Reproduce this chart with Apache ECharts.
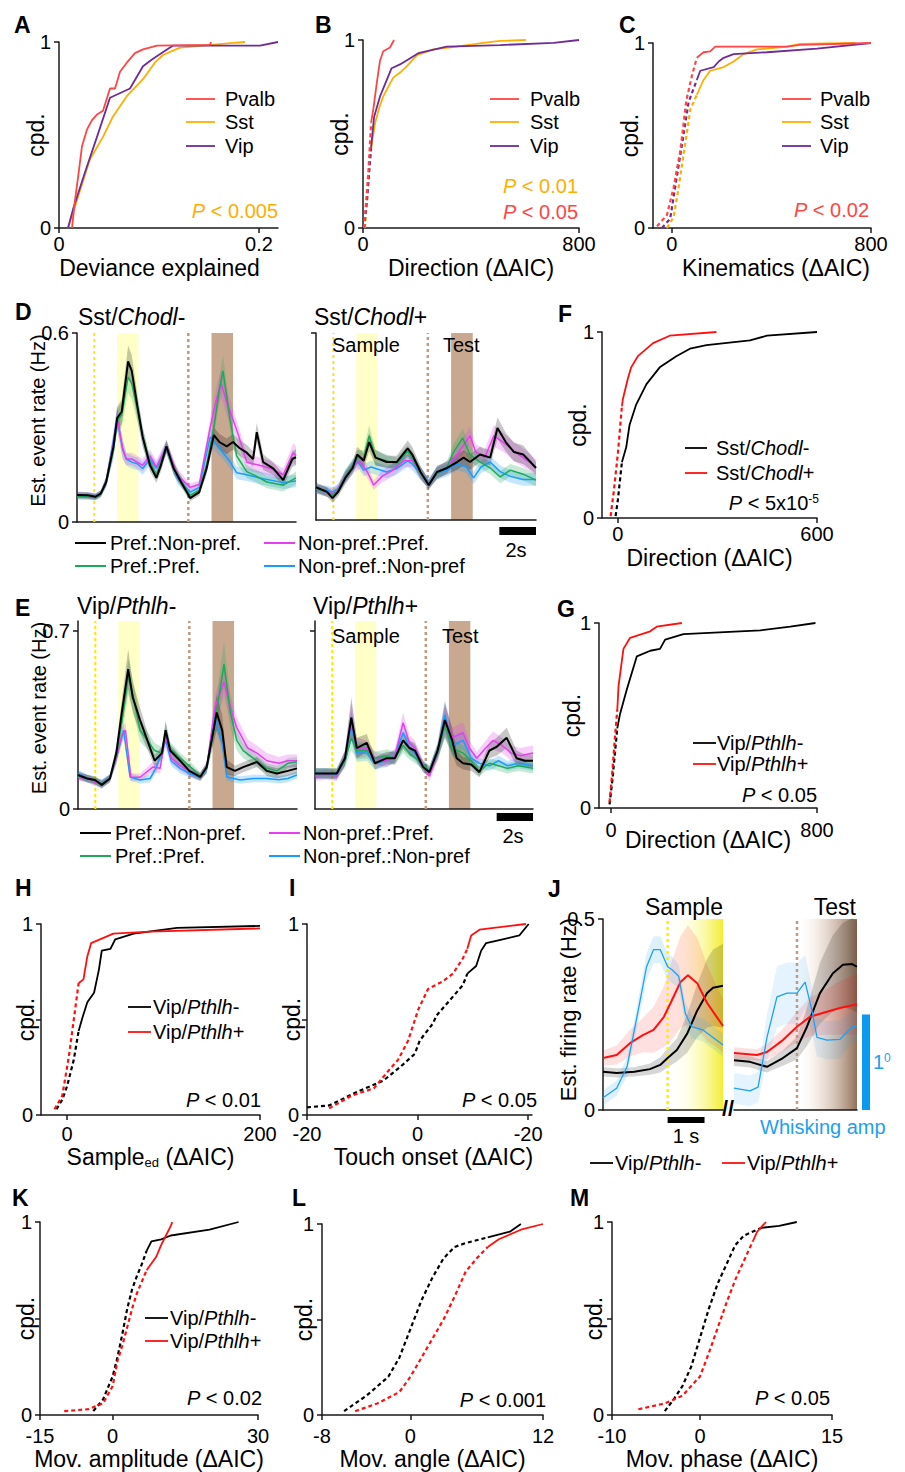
<!DOCTYPE html>
<html><head><meta charset="utf-8">
<script src="https://cdn.jsdelivr.net/npm/echarts@6/dist/echarts.min.js"></script>
<style>html,body{margin:0;padding:0;background:#fff}#c{width:905px;height:1472px}</style>
</head><body><div id="c"></div>
<script>
// ================= DATA =================
// Panel A (x: deviance explained, y: cumulative probability)
const A_pvalb = [[0.013,0],[0.016,0.15],[0.019,0.27],[0.023,0.44],[0.028,0.53],[0.033,0.58],[0.038,0.61],[0.044,0.63],[0.051,0.75],[0.056,0.75],[0.061,0.84],[0.068,0.89],[0.076,0.94],[0.084,0.96],[0.098,0.98],[0.151,0.985],[0.152,1]];
const A_sst = [[0.009,0],[0.018,0.15],[0.031,0.37],[0.044,0.49],[0.054,0.60],[0.068,0.71],[0.084,0.80],[0.096,0.89],[0.104,0.93],[0.121,0.97],[0.134,0.975],[0.174,0.995],[0.186,1]];
const A_vip = [[0.009,0],[0.014,0.1],[0.026,0.30],[0.038,0.49],[0.051,0.70],[0.071,0.75],[0.084,0.87],[0.094,0.91],[0.111,0.97],[0.114,0.98],[0.201,0.98],[0.219,1]];
const A_xticks = [0, 0.2], A_xlabels = ['0', '0.2'];
// Panel B
const B_pvalb = [[4,0],[12,0.15],[20,0.3],[30,0.56],[38,0.63],[51,0.77],[63,0.89],[75,0.94],[100,0.96],[115,1]];
const B_sst = [[7,0],[15,0.15],[22,0.3],[30,0.42],[45,0.56],[60,0.64],[75,0.70],[112,0.80],[140,0.83],[162,0.86],[200,0.92],[261,0.95],[348,0.965],[445,0.985],[507,0.995],[603,1]];
const B_vip = [[4,0],[15,0.15],[22,0.28],[30,0.43],[41,0.59],[63,0.70],[106,0.85],[137,0.87],[205,0.93],[310,0.965],[508,0.973],[706,0.985],[800,1]];
const B_thr = 30, B_xticks = [0, 800], B_xlabels = ['0', '800'];
// Panel C
const C_pvalb = [[-60,0.01],[-20,0.07],[7,0.22],[34,0.42],[58,0.69],[80,0.82],[100,0.92],[127,0.95],[154,0.955],[174,0.98],[315,0.98],[462,0.98],[516,0.99],[800,1]];
const C_sst = [[-20,0],[7,0.06],[27,0.22],[54,0.46],[74,0.64],[100,0.72],[127,0.80],[154,0.85],[208,0.87],[248,0.90],[288,0.94],[342,0.965],[462,0.98],[516,0.995],[737,1]];
const C_vip = [[-40,0],[-7,0.05],[13,0.22],[44,0.48],[67,0.68],[100,0.80],[114,0.85],[168,0.87],[188,0.90],[208,0.92],[248,0.94],[382,0.95],[583,0.97],[800,1]];
const C_thr = 100, C_xticks = [0, 800], C_xlabels = ['0', '800'];
// Panels D/E task events (s)
const DE_sampleCue = 0.95, DE_sampleWin = [2.2, 3.37], DE_testCue = 6.1, DE_testWin = [7.37, 8.55];
const DE_scaleBar = [10, 12];
// Panel D  [time s, rate Hz, sem]
const DL_black = [[0,.086,.01],[0.6,.085,.01],[1.0,.08,.01],[1.3,.09,.01],[1.6,.127,.015],[2.0,.24,.03],[2.2,.33,.035],[2.45,.35,.04],[2.8,.51,.05],[3.0,.48,.05],[3.3,.37,.04],[3.6,.27,.03],[4.0,.18,.02],[4.35,.14,.015],[4.6,.18,.02],[4.9,.24,.02],[5.3,.17,.02],[5.7,.127,.015],[6.2,.076,.01],[6.7,.095,.012],[7.1,.17,.02],[7.5,.276,.025],[7.8,.254,.025],[8.2,.24,.025],[8.55,.254,.025],[8.9,.235,.025],[9.3,.22,.025],[9.65,.20,.025],[9.85,.285,.03],[10.2,.19,.025],[10.75,.17,.02],[11.3,.133,.02],[11.8,.20,.025],[12,.206,.025]];
const DL_green = [[0,.08,.01],[0.6,.08,.01],[1.0,.078,.01],[1.3,.088,.01],[1.6,.125,.015],[2.0,.23,.03],[2.2,.32,.035],[2.45,.34,.04],[2.8,.46,.05],[3.0,.44,.05],[3.3,.36,.04],[3.6,.27,.03],[4.0,.19,.02],[4.35,.15,.015],[4.6,.19,.02],[4.9,.24,.02],[5.3,.17,.02],[5.7,.13,.015],[6.2,.085,.01],[6.7,.10,.012],[7.1,.18,.02],[7.5,.30,.03],[7.8,.42,.04],[8.0,.48,.05],[8.2,.40,.04],[8.4,.32,.035],[8.75,.21,.025],[9.3,.16,.02],[9.85,.145,.02],[10.4,.127,.02],[11.3,.117,.02],[12,.14,.02]];
const DL_magenta = [[0,.085,.01],[0.6,.083,.01],[1.0,.08,.01],[1.3,.09,.01],[1.6,.13,.015],[2.0,.25,.03],[2.2,.33,.035],[2.5,.235,.03],[2.7,.20,.02],[3.0,.20,.02],[3.3,.19,.02],[3.6,.18,.02],[4.0,.21,.02],[4.35,.175,.02],[4.9,.24,.02],[5.5,.15,.02],[6.2,.11,.012],[6.7,.12,.012],[7.3,.30,.03],[7.6,.38,.04],[7.9,.44,.045],[8.2,.38,.04],[8.4,.35,.035],[8.85,.275,.03],[9.3,.19,.025],[10.0,.18,.025],[10.6,.17,.025],[11.3,.15,.02],[11.85,.22,.03],[12,.21,.03]];
const DL_blue = [[0,.085,.01],[0.6,.084,.01],[1.0,.082,.01],[1.3,.09,.01],[1.6,.13,.015],[2.0,.26,.03],[2.2,.33,.035],[2.5,.23,.03],[2.7,.20,.02],[3.0,.19,.02],[3.3,.185,.02],[3.6,.17,.02],[4.0,.20,.02],[4.35,.17,.02],[4.9,.235,.02],[5.5,.14,.02],[6.2,.095,.012],[6.7,.11,.012],[7.3,.27,.03],[7.65,.245,.025],[8.0,.22,.02],[8.4,.19,.02],[8.75,.156,.02],[9.3,.15,.02],[10.0,.14,.02],[11.3,.125,.02],[12,.13,.02]];
const DR_black = [[0,.105,.015],[0.6,.09,.015],[0.9,.07,.015],[1.2,.09,.015],[1.6,.135,.02],[2.0,.167,.02],[2.25,.21,.025],[2.6,.19,.025],[2.9,.25,.03],[3.25,.20,.025],[3.85,.186,.02],[4.4,.186,.02],[5.0,.23,.025],[5.25,.21,.025],[5.7,.154,.02],[6.15,.112,.015],[6.6,.154,.02],[7.15,.167,.02],[7.7,.186,.025],[8.05,.20,.025],[8.4,.186,.025],[8.95,.21,.025],[9.5,.20,.025],[9.9,.295,.035],[10.35,.25,.03],[10.8,.218,.03],[11.3,.21,.03],[11.7,.186,.025],[12,.167,.02]];
const DR_green = [[0,.10,.015],[0.6,.09,.015],[0.9,.08,.015],[1.2,.095,.015],[1.6,.14,.02],[2.0,.175,.02],[2.25,.20,.025],[2.6,.20,.025],[2.9,.27,.035],[3.25,.20,.025],[3.85,.19,.02],[4.4,.18,.02],[5.0,.22,.02],[5.25,.20,.02],[5.7,.15,.02],[6.15,.115,.015],[6.6,.15,.02],[7.15,.17,.02],[7.5,.218,.025],[8.0,.263,.03],[8.4,.21,.025],[8.95,.186,.02],[9.5,.167,.02],[10.05,.138,.02],[10.6,.16,.02],[11.3,.147,.02],[12,.128,.02]];
const DR_magenta = [[0,.10,.015],[0.6,.09,.015],[0.9,.085,.015],[1.2,.10,.015],[1.6,.14,.02],[2.0,.17,.02],[2.4,.19,.025],[2.8,.154,.02],[3.15,.112,.015],[3.6,.14,.02],[4.2,.16,.02],[4.8,.19,.02],[5.3,.19,.02],[5.7,.15,.02],[6.15,.115,.015],[6.6,.15,.02],[7.15,.17,.02],[7.7,.21,.025],[8.4,.27,.03],[8.7,.22,.025],[9.2,.20,.025],[9.7,.27,.035],[10.2,.25,.03],[10.8,.22,.03],[11.3,.20,.03],[12,.17,.025]];
const DR_blue = [[0,.10,.015],[0.6,.095,.015],[0.9,.09,.015],[1.2,.10,.015],[1.6,.14,.02],[2.0,.175,.02],[2.25,.19,.02],[2.6,.16,.02],[3.0,.17,.02],[3.85,.154,.02],[4.4,.165,.02],[5.0,.19,.02],[5.25,.18,.02],[5.7,.15,.02],[6.15,.12,.015],[6.6,.15,.02],[7.15,.16,.02],[7.7,.18,.02],[8.2,.17,.02],[8.6,.135,.02],[9.0,.17,.02],[9.5,.186,.02],[10.05,.155,.02],[10.6,.14,.02],[11.3,.13,.02],[12,.13,.02]];
// Panel E
const EL_black = [[0,.134,.015],[0.5,.12,.015],[0.93,.114,.015],[1.3,.095,.015],[1.75,.12,.015],[2.1,.22,.03],[2.4,.38,.05],[2.75,.55,.08],[3.0,.44,.06],[3.4,.35,.05],[3.8,.27,.035],[4.2,.19,.025],[4.6,.22,.025],[4.8,.31,.035],[5.05,.23,.025],[5.6,.19,.02],[6.1,.15,.02],[6.7,.126,.015],[7.05,.165,.02],[7.4,.30,.05],[7.6,.38,.07],[7.9,.31,.06],[8.15,.165,.03],[8.6,.15,.02],[9.05,.165,.02],[9.8,.185,.02],[10.35,.15,.02],[10.9,.14,.02],[11.5,.15,.02],[12,.16,.02]];
const EL_green = [[0,.13,.015],[0.5,.12,.015],[0.93,.11,.015],[1.3,.10,.015],[1.75,.12,.015],[2.1,.21,.03],[2.4,.34,.05],[2.75,.52,.07],[3.0,.45,.06],[3.4,.31,.045],[3.8,.27,.035],[4.2,.23,.03],[4.6,.22,.025],[4.8,.31,.035],[5.05,.24,.025],[5.6,.20,.02],[6.1,.17,.02],[6.7,.13,.015],[7.05,.16,.02],[7.5,.34,.06],[8.0,.57,.09],[8.35,.38,.06],[8.7,.27,.04],[9.05,.23,.03],[9.6,.20,.025],[10.35,.16,.02],[10.9,.15,.02],[11.5,.18,.02],[12,.185,.02]];
const EL_magenta = [[0,.125,.015],[0.5,.12,.015],[0.93,.105,.015],[1.3,.10,.015],[1.75,.12,.015],[2.1,.2,.025],[2.4,.29,.03],[2.6,.31,.03],[2.9,.126,.015],[3.4,.125,.015],[4.1,.165,.02],[4.5,.16,.02],[4.8,.29,.03],[5.1,.2,.02],[5.6,.17,.02],[6.1,.15,.02],[6.7,.13,.015],[7.05,.16,.02],[7.5,.40,.05],[8.0,.50,.06],[8.35,.40,.05],[8.7,.32,.04],[9.3,.24,.035],[9.8,.22,.03],[10.35,.19,.03],[11.0,.18,.025],[11.5,.19,.025],[12,.19,.025]];
const EL_blue = [[0,.14,.015],[0.5,.12,.015],[0.93,.11,.015],[1.3,.10,.015],[1.75,.125,.015],[2.1,.2,.02],[2.5,.31,.03],[2.85,.126,.015],[3.4,.114,.015],[3.95,.12,.015],[4.3,.165,.02],[4.8,.27,.03],[5.1,.19,.02],[5.6,.16,.02],[6.1,.14,.015],[6.7,.125,.015],[7.05,.16,.02],[7.5,.36,.04],[7.9,.26,.03],[8.15,.126,.015],[8.9,.114,.015],[9.6,.12,.015],[10.35,.12,.015],[11.0,.115,.015],[11.5,.12,.015],[12,.134,.015]];
const ER_black = [[0,.14,.02],[0.6,.14,.02],[1.2,.14,.02],[1.65,.2,.03],[2.0,.36,.08],[2.3,.24,.04],[2.85,.26,.035],[3.3,.18,.025],[3.95,.2,.025],[4.4,.2,.025],[4.85,.27,.035],[5.2,.24,.03],[5.5,.23,.03],[5.95,.165,.02],[6.3,.145,.02],[6.75,.23,.03],[7.15,.35,.07],[7.55,.27,.05],[7.8,.2,.03],[8.15,.18,.025],[8.6,.175,.025],[9.05,.145,.02],[9.6,.23,.03],[10.0,.245,.035],[10.55,.28,.04],[11.1,.2,.03],[11.55,.19,.025],[12,.19,.025]];
const ER_green = [[0,.14,.02],[0.6,.14,.02],[1.2,.14,.02],[1.65,.19,.03],[2.0,.28,.05],[2.3,.23,.035],[2.85,.23,.03],[3.3,.20,.025],[3.95,.21,.025],[4.4,.20,.025],[4.85,.25,.03],[5.2,.22,.025],[5.7,.19,.02],[6.3,.15,.02],[6.75,.22,.03],[7.15,.33,.05],[7.55,.24,.035],[8.15,.22,.03],[8.6,.19,.025],[9.05,.15,.02],[9.6,.18,.02],[10.1,.17,.02],[10.6,.16,.02],[11.2,.17,.02],[12,.16,.02]];
const ER_magenta = [[0,.13,.02],[0.6,.135,.02],[1.2,.13,.02],[1.65,.2,.03],[2.0,.35,.07],[2.3,.24,.04],[2.85,.24,.03],[3.3,.2,.025],[3.95,.19,.025],[4.4,.21,.025],[4.85,.34,.04],[5.2,.26,.03],[5.5,.24,.03],[5.95,.17,.02],[6.3,.13,.02],[6.75,.22,.03],[7.15,.35,.06],[7.55,.28,.04],[8.15,.30,.04],[8.5,.24,.03],[8.9,.20,.025],[9.4,.24,.03],[9.8,.27,.035],[10.3,.25,.03],[10.8,.22,.03],[11.3,.21,.03],[12,.22,.03]];
const ER_blue = [[0,.14,.02],[0.6,.14,.02],[1.2,.135,.02],[1.65,.2,.03],[2.0,.33,.06],[2.3,.22,.035],[2.85,.22,.03],[3.3,.18,.025],[3.95,.19,.025],[4.4,.21,.025],[4.85,.30,.035],[5.2,.24,.03],[5.5,.22,.03],[5.95,.17,.02],[6.3,.15,.02],[6.75,.23,.03],[7.15,.37,.06],[7.55,.25,.04],[8.15,.27,.035],[8.6,.2,.025],[9.05,.18,.02],[9.6,.17,.02],[10.1,.19,.02],[10.6,.17,.02],[11.2,.18,.02],[12,.17,.02]];
// Panel F
const F_neg = [[-7,0.01],[0,0.1],[6,0.2],[12,0.3],[25,0.38],[35,0.50],[55,0.61],[86,0.72],[126,0.81],[176,0.87],[217,0.91],[267,0.93],[398,0.955],[449,0.98],[600,1]];
const F_pos = [[-22,0.01],[-12,0.15],[0,0.35],[12,0.6],[15,0.64],[30,0.75],[40,0.81],[60,0.87],[106,0.94],[156,0.98],[297,1]];
const F_thr = 12, F_xticks = [0, 600], F_xlabels = ['0', '600'];
// Panel G
const G_neg = [[-6,0.02],[5,0.15],[15,0.3],[24,0.43],[35,0.51],[61,0.64],[100,0.82],[152,0.85],[190,0.86],[210,0.91],[281,0.94],[580,0.96],[696,0.98],[794,1]];
const G_pos = [[-6,0.03],[5,0.2],[15,0.38],[24,0.53],[29,0.66],[48,0.86],[74,0.92],[152,0.955],[177,0.98],[275,1]];
const G_thr = 24, G_xticks = [0, 800], G_xlabels = ['0', '800'];
// Panel H
const H_neg = [[-11,0.03],[-5,0.08],[0,0.15],[7,0.29],[12,0.44],[16,0.51],[21,0.59],[28,0.64],[33,0.76],[36,0.86],[45,0.87],[50,0.92],[69,0.95],[114,0.98],[200,0.99]];
const H_pos = [[-13,0.03],[-5,0.10],[2,0.31],[7,0.5],[12,0.69],[17,0.71],[21,0.83],[25,0.90],[48,0.95],[86,0.96],[200,0.977]];
const H_thr = 12, H_xticks = [0, 200], H_xlabels = ['0', '200'];
// Panel I
const I_neg = [[-20,0.04],[-16,0.05],[-11,0.12],[-6.2,0.18],[-3.2,0.25],[-0.5,0.32],[0.4,0.39],[2.8,0.48],[3.4,0.52],[5.8,0.60],[8.2,0.68],[9,0.74],[10.6,0.78],[11.5,0.86],[12.4,0.90],[15.4,0.92],[18.4,0.94],[20.1,1]];
const I_pos = [[-16,0.035],[-12,0.10],[-7.9,0.14],[-5.3,0.23],[-3.5,0.29],[-1.7,0.39],[0.1,0.55],[1.9,0.66],[4.6,0.70],[6.4,0.74],[8.2,0.82],[9,0.87],[9.7,0.94],[11.2,0.97],[19.6,1]];
const I_thr = 9, I_xticks = [-20, 0, 20], I_xlabels = ['-20', '0', '-20'];
// Panel J [time s, rate Hz, sem]
const J_sampleGrad = [0, 1.5], J_testGrad = [0, 1.62], J_scaleBar = [0, 1], J_whisk1deg = 0.25;
const JL_black = [[-1.75,.10,.012],[-1.38,.097,.012],[-0.9,.10,.012],[-0.48,.107,.015],[-0.2,.118,.02],[0,.136,.025],[0.25,.157,.03],[0.53,.20,.05],[0.8,.26,.07],[1.07,.306,.09],[1.23,.32,.1],[1.5,.325,.11]];
const JL_red = [[-1.75,.136,.02],[-1.38,.144,.025],[-1.02,.175,.035],[-0.67,.196,.045],[-0.38,.21,.06],[-0.1,.244,.08],[0.08,.28,.1],[0.35,.335,.12],[0.55,.353,.13],[0.8,.332,.12],[1.07,.28,.1],[1.32,.245,.08],[1.5,.22,.07]];
const JL_blue = [[-1.75,.032,.02],[-1.38,.057,.02],[-1.1,.113,.025],[-0.83,.244,.03],[-0.57,.375,.035],[-0.38,.42,.035],[-0.2,.42,.035],[0,.375,.035],[0.12,.367,.035],[0.3,.35,.03],[0.48,.253,.03],[0.65,.218,.03],[0.95,.21,.03],[1.23,.19,.03],[1.5,.17,.03]];
const JR_black = [[-1.7,.13,.015],[-1.27,.126,.015],[-0.81,.113,.015],[-0.38,.136,.02],[0,.162,.03],[0.27,.218,.05],[0.62,.306,.08],[0.97,.358,.1],[1.24,.38,.11],[1.49,.382,.12],[1.62,.375,.12]];
const JR_red = [[-1.7,.149,.015],[-1.08,.144,.015],[-0.81,.152,.02],[-0.38,.183,.03],[0,.218,.04],[0.35,.244,.05],[0.81,.257,.06],[1.16,.267,.07],[1.62,.277,.08]];
const JR_blue = [[-1.7,.057,.04],[-1.27,.05,.04],[-1.05,.06,.04],[-0.81,.19,.06],[-0.54,.296,.08],[-0.27,.306,.08],[0,.306,.08],[0.22,.335,.07],[0.4,.262,.06],[0.54,.19,.05],[0.81,.183,.05],[1.16,.185,.05],[1.49,.218,.04],[1.62,.22,.04]];
// Panel K
const K_neg = [[-4,0.02],[-2,0.08],[0,0.2],[1,0.3],[2,0.42],[3,0.55],[4,0.65],[5,0.72],[6,0.78],[7,0.85],[8,0.9],[10,0.91],[12,0.93],[20,0.96],[26,1.0]];
const K_pos = [[-10,0.02],[-5,0.03],[-2,0.06],[0,0.15],[1,0.28],[2,0.36],[4,0.55],[5,0.63],[7,0.75],[9,0.82],[10,0.88],[11,0.93],[12,0.98],[12.3,1.0]];
const K_thr = 7, K_xticks = [-15, 0, 30], K_xlabels = ['-15', '0', '30'];
// Panel L
const L_neg = [[-6,0.02],[-4,0.1],[-2,0.2],[-1,0.3],[0,0.45],[1,0.6],[2,0.72],[3,0.82],[4,0.88],[5,0.9],[7,0.93],[9,0.96],[10,1]];
const L_pos = [[-5,0.02],[-3,0.06],[-1,0.12],[0,0.2],[1,0.3],[2,0.4],[3,0.5],[4,0.62],[5,0.75],[6,0.82],[7,0.88],[8,0.92],[10,0.97],[12,1.0]];
const L_thr = 7, L_xticks = [-8, 0, 12], L_xlabels = ['-8', '0', '12'];
// Panel M
const M_neg = [[-4,0.02],[-3,0.08],[-2,0.15],[-1,0.25],[0,0.4],[1,0.55],[2,0.68],[3,0.78],[4,0.88],[5,0.93],[7,0.97],[9,0.98],[11,1]];
const M_pos = [[-7,0.03],[-4,0.06],[-2,0.1],[0,0.2],[1,0.32],[2,0.45],[3,0.58],[4,0.7],[5,0.8],[6,0.9],[6.5,0.95],[7.5,1]];
const M_thr = 6, M_xticks = [-10, 0, 15], M_xlabels = ['-10', '0', '15'];
const CDF_yVals = [0, 1], CDF_yLabels = ['0', '1'];

// ================= BUILD =================
const FONT = "'Liberation Sans', Arial, Helvetica, sans-serif";
const AX = '#1a1a1a';
const grids = [], xAxes = [], yAxes = [], series = [], graphics = [];
const COL = {pv:'#FF4545', sst:'#FFAE00', vip:'#6E2C96', blk:'#000000', red:'#FF1010',
  grn:'#1DAA58', mag:'#E53FF0', blu:'#1A9BFF', jblu:'#1EA0EE'};

function near(list, v) { return list.findIndex(t => Math.abs(t - v) < 1e-9); }
function xAxisCfg(min, max, o) {
  const ticks = o.ticks || [], labs = o.labels || [];
  return {type:'value', min, max, position:'bottom', nameMoveOverlap:false,
    axisLine:{show:true, onZero:false, lineStyle:{color:AX, width:1.5}},
    axisTick:{show:ticks.length > 0, length:5, customValues:ticks, lineStyle:{color:AX, width:1.5}},
    axisLabel:{show:ticks.length > 0, customValues:ticks, margin:o.margin ?? 6, fontSize:20, color:'#000', fontFamily:FONT,
      formatter: v => { const i = near(ticks, v); return i < 0 ? '' : labs[i]; }},
    splitLine:{show:false},
    name:o.name || '', nameLocation:'middle', nameGap:o.nameGap ?? 28,
    nameTextStyle:{fontSize:23, color:'#000', fontFamily:FONT, padding:o.namePad || 0, rich:o.rich}};
}
function yAxisCfg(min, max, o) {
  const ticks = o.ticks || [], lv = o.labelVals || [], lt = o.labelTxt || [];
  return {type:'value', min, max, position:'left', show:o.show !== false, nameMoveOverlap:false,
    axisLine:{show:true, onZero:false, lineStyle:{color:AX, width:1.5}},
    axisTick:{show:ticks.length > 0, length:5, customValues:ticks, lineStyle:{color:AX, width:1.5}},
    axisLabel:{show:lv.length > 0, customValues:lv, margin:o.margin ?? 8, fontSize:20, color:'#000', fontFamily:FONT,
      formatter: v => { const i = near(lv, v); return i < 0 ? '' : lt[i]; }},
    splitLine:{show:false},
    name:o.name || '', nameLocation:'middle', nameGap:o.nameGap ?? 12, nameRotate:90,
    nameTextStyle:{fontSize:o.nameSize || 23, color:'#000', fontFamily:FONT, padding:o.namePad || 0}};
}
function addGrid(box, xa, ya) {
  const i = grids.length;
  grids.push(Object.assign({containLabel:false}, box));
  xa.gridIndex = i; ya.gridIndex = i; xAxes.push(xa); yAxes.push(ya);
  return i;
}
function line(gi, data, color, width, dashed, z) {
  series.push({type:'line', xAxisIndex:gi, yAxisIndex:gi, data, symbol:'none', showSymbol:false, silent:true,
    animation:false, z:z || 4, lineStyle:{color, width, type:dashed ? [4, 3] : 'solid'}, emphasis:{disabled:true}});
}
function cdf(gi, pts, thr, color) {
  if (thr == null) { line(gi, pts, color, 1.8, false); return; }
  let k = pts.findIndex(p => p[0] >= thr); if (k < 0) k = pts.length - 1;
  line(gi, pts.slice(0, k + 1), color, 2.2, true);
  line(gi, pts.slice(k), color, 1.8, false);
}
function custom(gi, anchor, z, fn) {
  series.push({type:'custom', coordinateSystem:'cartesian2d', xAxisIndex:gi, yAxisIndex:gi, data:[anchor], silent:true,
    animation:false, clip:false, z, renderItem:(p, api) => p.dataIndex === 0 ? fn(api) : null});
}
function band(gi, pts, color, opacity) {
  custom(gi, [pts[0][0], pts[0][1]], 2, api => {
    const up = pts.map(p => api.coord([p[0], p[1] + p[2]]));
    const dn = pts.slice().reverse().map(p => api.coord([p[0], Math.max(0, p[1] - p[2])]));
    return {type:'polygon', shape:{points:up.concat(dn)}, style:{fill:color, opacity}};
  });
}
function trace(gi, pts, color, width, op) {
  band(gi, pts, color, op);
  line(gi, pts.map(p => [p[0], p[1]]), color, width, false, 4);
}
function rectS(gi, x1, x2, y1, y2, fill, z) {
  custom(gi, [x1, y1], z ?? 0, api => {
    const a = api.coord([x1, y2]), b = api.coord([x2, y1]);
    return {type:'rect', shape:{x:a[0], y:a[1], width:b[0] - a[0], height:b[1] - a[1]}, style:{fill}};
  });
}
function vline(gi, x, y1, y2, color, w, z) {
  custom(gi, [x, y1], z ?? 1, api => {
    const a = api.coord([x, y1]), b = api.coord([x, y2]);
    return {type:'line', shape:{x1:a[0], y1:a[1], x2:b[0], y2:b[1]}, style:{stroke:color, lineWidth:w, lineDash:[3, 3]}};
  });
}
function hbar(gi, x1, x2, dy, thick, color) {
  custom(gi, [x1, 0], 5, api => {
    const a = api.coord([x1, 0]), b = api.coord([x2, 0]);
    return {type:'rect', shape:{x:a[0], y:a[1] + dy - thick / 2, width:b[0] - a[0], height:thick}, style:{fill:color}};
  });
}
function txt(x, y, text, o) {
  o = o || {};
  const fs = o.size || 20;
  const base = {fontSize:fs, fontFamily:o.family || FONT, fontWeight:o.weight || 'normal', fill:o.color || '#000'};
  const rich = {
    i:{fontSize:fs, fontFamily:FONT, fontStyle:'italic', fill:o.color || '#000'},
    sup:{fontSize:Math.round(fs * 0.6), fontFamily:FONT, fill:o.color || '#000', verticalAlign:'top', lineHeight:fs},
  };
  graphics.push({type:'text', x, y, silent:true, z:50,
    style:Object.assign(base, {text, align:o.align || 'left', verticalAlign:'middle', rich})});
}
function legLine(x1, x2, y, color, w) {
  graphics.push({type:'line', silent:true, z:50, shape:{x1, y1:y, x2, y2:y}, style:{stroke:color, lineWidth:w || 1.8}});
}
function letter(x, y, t) { txt(x, y, t, {size:23, weight:'bold', family:"'Liberation Sans Narrow', 'Liberation Sans', Arial, sans-serif"}); }
function cdfY(o) { return yAxisCfg(0, 1, Object.assign({ticks:o.mid ? [0, 0.5, 1] : [0, 1], labelVals:CDF_yVals, labelTxt:CDF_yLabels, name:'cpd.'}, o)); }

// ---- A
let g = addGrid({left:59, top:42, width:219, height:186},
  xAxisCfg(0, 0.219, {ticks:A_xticks, labels:A_xlabels, name:'Deviance explained', namePad:[0, 18, 0, 0]}), cdfY({nameGap:12}));
cdf(g, A_sst, null, COL.sst); cdf(g, A_vip, null, COL.vip); cdf(g, A_pvalb, null, COL.pv);
// ---- B
g = addGrid({left:363, top:40, width:216, height:188},
  xAxisCfg(0, 800, {ticks:B_xticks, labels:B_xlabels, name:'Direction (ΔAIC)'}), cdfY({nameGap:12}));
cdf(g, B_sst, B_thr, COL.sst); cdf(g, B_vip, B_thr, COL.vip); cdf(g, B_pvalb, B_thr, COL.pv);
// ---- C
g = addGrid({left:653, top:43, width:218, height:185},
  xAxisCfg(-76, 800, {ticks:C_xticks, labels:C_xlabels, name:'Kinematics (ΔAIC)', namePad:[0, 0, 0, 28]}), cdfY({nameGap:12}));
cdf(g, C_sst, C_thr, COL.sst); cdf(g, C_vip, C_thr, COL.vip); cdf(g, C_pvalb, C_thr, COL.pv);

// ---- D / E time courses
function tcPanel(box, ymax, yo, traces, withBar) {
  const gi = addGrid(box, xAxisCfg(0, 12, {ticks:[]}), yAxisCfg(0, ymax, yo));
  rectS(gi, DE_sampleWin[0], DE_sampleWin[1], 0, ymax, '#FFFFC8', 0);
  rectS(gi, DE_testWin[0], DE_testWin[1], 0, ymax, '#C9A890', 0);
  vline(gi, DE_sampleCue, 0, ymax, '#FFE600', 2, 1);
  vline(gi, DE_testCue, 0, ymax, '#BE9A7E', 2.5, 1);
  traces.forEach(t => trace(gi, t[0], t[1], t[2], t[3]));
  if (withBar) hbar(gi, DE_scaleBar[0], DE_scaleBar[1], withBar, 8, '#000');
  return gi;
}
const yEst = 'Est. event rate (Hz)';
tcPanel({left:77, top:333, width:219, height:189}, 0.6,
  {ticks:[0, 0.6], labelVals:[0, 0.6], labelTxt:['0', '0.6'], name:yEst, nameGap:29, nameSize:20, namePad:[0, 0, 0, 14]},
  [[DL_blue, COL.blu, 1.5, 0.25], [DL_magenta, COL.mag, 1.5, 0.25], [DL_green, COL.grn, 1.5, 0.25], [DL_black, COL.blk, 2, 0.22]]);
tcPanel({left:316, top:333, width:220, height:187}, 0.6, {ticks:[0.6]},
  [[DR_blue, COL.blu, 1.5, 0.25], [DR_magenta, COL.mag, 1.5, 0.25], [DR_green, COL.grn, 1.5, 0.25], [DR_black, COL.blk, 2, 0.22]], 11);
tcPanel({left:78, top:621, width:219, height:188}, 0.74,
  {ticks:[0, 0.7], labelVals:[0, 0.7], labelTxt:['0', '0.7'], name:yEst, nameGap:29, nameSize:20, namePad:[0, 0, 0, 14]},
  [[EL_blue, COL.blu, 1.5, 0.25], [EL_magenta, COL.mag, 1.5, 0.25], [EL_green, COL.grn, 1.5, 0.25], [EL_black, COL.blk, 2, 0.22]]);
tcPanel({left:315, top:621, width:218, height:188}, 0.74, {ticks:[0.7]},
  [[ER_blue, COL.blu, 1.5, 0.25], [ER_magenta, COL.mag, 1.5, 0.25], [ER_green, COL.grn, 1.5, 0.25], [ER_black, COL.blk, 2, 0.22]], 8);

// ---- F
g = addGrid({left:602, top:332, width:215, height:186},
  xAxisCfg(-48, 600, {ticks:F_xticks, labels:F_xlabels, name:'Direction (ΔAIC)'}), cdfY({nameGap:13}));
cdf(g, F_neg, F_thr, COL.blk); cdf(g, F_pos, F_thr, COL.red);
// ---- G
g = addGrid({left:599, top:623, width:218, height:185},
  xAxisCfg(-47, 800, {ticks:G_xticks, labels:G_xlabels, name:'Direction (ΔAIC)', nameGap:20, margin:12}), cdfY({nameGap:16}));
cdf(g, G_neg, G_thr, COL.blk); cdf(g, G_pos, G_thr, COL.red);
// ---- H
g = addGrid({left:41, top:924, width:219, height:191},
  xAxisCfg(-27, 200, {ticks:H_xticks, labels:H_xlabels, name:'Sample{sub|ed} (ΔAIC)', nameGap:29, margin:9,
    rich:{sub:{fontSize:13, fontFamily:FONT, verticalAlign:'bottom', padding:[12, 0, 0, 0]}}}), cdfY({nameGap:4, mid:true}));
cdf(g, H_neg, H_thr, COL.blk); cdf(g, H_pos, H_thr, COL.red);
// ---- I
g = addGrid({left:307, top:924, width:225, height:191},
  xAxisCfg(-20, 20.7, {ticks:I_xticks, labels:I_xlabels, name:'Touch onset (ΔAIC)', nameGap:30, margin:9, namePad:[0, 0, 0, 28]}), cdfY({nameGap:4, mid:true}));
cdf(g, I_neg, I_thr, COL.blk); cdf(g, I_pos, I_thr, COL.red);

// ---- J
const gJL = addGrid({left:603, top:919, width:120, height:191}, xAxisCfg(-1.75, 1.5, {ticks:[]}),
  yAxisCfg(0, 0.5, {ticks:[0, 0.5], labelVals:[0, 0.5], labelTxt:['0', '0.5'], name:'Est. firing rate (Hz)', nameGap:24, nameSize:22, namePad:[0, 0, 0, 10]}));
const gJR = addGrid({left:734, top:919, width:123, height:191}, xAxisCfg(-1.7, 1.62, {ticks:[]}), yAxisCfg(0, 0.5, {show:false}));
rectS(gJL, J_sampleGrad[0], J_sampleGrad[1], 0, 0.5, new echarts.graphic.LinearGradient(0, 0, 1, 0,
  [{offset:0, color:'rgba(255,255,255,0)'}, {offset:0.3, color:'rgba(255,255,200,0.3)'}, {offset:1, color:'rgba(242,236,40,0.95)'}]), 0);
rectS(gJR, J_testGrad[0], J_testGrad[1], 0, 0.5, new echarts.graphic.LinearGradient(0, 0, 1, 0,
  [{offset:0, color:'rgba(255,255,255,0)'}, {offset:0.3, color:'rgba(235,215,200,0.4)'}, {offset:1, color:'rgba(140,105,80,0.95)'}]), 0);
vline(gJL, 0, 0, 0.5, '#FFEE00', 2.5, 3);
vline(gJR, 0, 0, 0.5, '#BE9A7E', 2.5, 3);
trace(gJL, JL_black, COL.blk, 2, 0.16); trace(gJL, JL_red, COL.red, 2, 0.13); trace(gJL, JL_blue, COL.jblu, 1.3, 0.15);
trace(gJR, JR_black, COL.blk, 2, 0.16); trace(gJR, JR_red, COL.red, 2, 0.13); trace(gJR, JR_blue, COL.jblu, 1.3, 0.12);
hbar(gJL, J_scaleBar[0], J_scaleBar[1], 10, 6, '#000');
custom(gJR, [1.62, 0], 5, api => {
  const a = api.coord([1.62, 0]), b = api.coord([1.62, J_whisk1deg]);
  return {type:'rect', shape:{x:a[0] + 5, y:b[1], width:8, height:a[1] - b[1]}, style:{fill:'#0A9BF0'}};
});

// ---- K, L, M
g = addGrid({left:40, top:1222, width:218, height:193},
  xAxisCfg(-15, 30, {ticks:K_xticks, labels:K_xlabels, name:'Mov. amplitude (ΔAIC)', nameGap:32, margin:11}), cdfY({nameGap:3, mid:true}));
cdf(g, K_neg, K_thr, COL.blk); cdf(g, K_pos, K_thr, COL.red);
g = addGrid({left:322, top:1224, width:221, height:191},
  xAxisCfg(-8, 12, {ticks:L_xticks, labels:L_xlabels, name:'Mov. angle (ΔAIC)', nameGap:32, margin:11}), cdfY({nameGap:7, mid:true}));
cdf(g, L_neg, L_thr, COL.blk); cdf(g, L_pos, L_thr, COL.red);
g = addGrid({left:612, top:1222, width:220, height:193},
  xAxisCfg(-10, 15, {ticks:M_xticks, labels:M_xlabels, name:'Mov. phase (ΔAIC)', nameGap:32, margin:11}), cdfY({nameGap:7, mid:true}));
cdf(g, M_neg, M_thr, COL.blk); cdf(g, M_pos, M_thr, COL.red);

// ================= TEXT / LEGENDS =================
letter(14, 25, 'A'); letter(315, 25, 'B'); letter(619, 25, 'C');
letter(15, 312, 'D'); letter(15, 608, 'E'); letter(558, 314, 'F'); letter(557, 609, 'G');
letter(15, 888, 'H'); letter(289, 888, 'I'); letter(548, 889, 'J');
letter(12, 1198, 'K'); letter(292, 1198, 'L'); letter(570, 1198, 'M');
// A-C legends
[[186, 225], [490, 530], [782, 820]].forEach(p => {
  [['Pvalb', COL.pv, 99], ['Sst', COL.sst, 122], ['Vip', COL.vip, 146]].forEach(r => { legLine(p[0], p[0] + 29, r[2], r[1]); txt(p[1], r[2], r[0]); });
});
txt(278, 211, '{i|P} < 0.005', {color:COL.sst, size:20, align:'right'});
txt(578, 186, '{i|P} < 0.01', {color:COL.sst, size:20, align:'right'});
txt(578, 212, '{i|P} < 0.05', {color:COL.pv, size:20, align:'right'});
txt(869, 210, '{i|P} < 0.02', {color:COL.pv, size:20, align:'right'});
// D / E titles & labels
txt(78, 317, 'Sst/{i|Chodl}-', {size:23}); txt(314, 317, 'Sst/{i|Chodl}+', {size:23});
txt(77, 606, 'Vip/{i|Pthlh}-', {size:23}); txt(313, 606, 'Vip/{i|Pthlh}+', {size:23});
txt(332, 345, 'Sample', {size:20}); txt(443, 345, 'Test', {size:20});
txt(332, 636, 'Sample', {size:20}); txt(442, 636, 'Test', {size:20});
txt(516, 550, '2s', {size:20, align:'center'}); txt(513, 836, '2s', {size:20, align:'center'});
function deLegend(y1, y2, xa, xb) {
  legLine(xa, xa + 31, y1, COL.blk, 2); txt(xa + 35, y1, 'Pref.:Non-pref.');
  legLine(xa, xa + 31, y2, COL.grn, 2); txt(xa + 35, y2, 'Pref.:Pref.');
  legLine(xb, xb + 31, y1, COL.mag, 2); txt(xb + 34, y1, 'Non-pref.:Pref.');
  legLine(xb, xb + 31, y2, COL.blu, 2); txt(xb + 34, y2, 'Non-pref.:Non-pref');
}
deLegend(543, 566, 75, 264);
deLegend(833, 856, 80, 269);
// F / G legends
legLine(685, 707, 448, COL.blk); txt(716, 448, 'Sst/{i|Chodl}-');
legLine(685, 707, 473, COL.red); txt(716, 473, 'Sst/{i|Chodl}+');
txt(819, 503, '{i|P} < 5x10{sup|-5}', {align:'right'});
legLine(693, 716, 743, COL.blk); txt(717, 743, 'Vip/{i|Pthlh}-');
legLine(693, 716, 764, COL.red); txt(717, 764, 'Vip/{i|Pthlh}+');
txt(817, 795, '{i|P} < 0.05', {align:'right'});
// H / I
legLine(128, 151, 1007, COL.blk); txt(153, 1007, 'Vip/{i|Pthlh}-');
legLine(128, 151, 1032, COL.red); txt(153, 1032, 'Vip/{i|Pthlh}+');
txt(261, 1100, '{i|P} < 0.01', {align:'right'});
txt(537, 1100, '{i|P} < 0.05', {align:'right'});
// J
txt(723, 907, 'Sample', {size:23, align:'right'}); txt(856, 907, 'Test', {size:23, align:'right'});
txt(686, 1136, '1 s', {size:20, align:'center'});
txt(728, 1108, '//', {size:22, align:'center', weight:'bold'});
txt(873, 1062, '1{sup|0}', {size:20, color:'#1EA0EE'});
txt(760, 1127, 'Whisking amp', {size:20, color:'#1EA0EE'});
legLine(590, 613, 1163, COL.blk); txt(615, 1163, 'Vip/{i|Pthlh}-');
legLine(722, 745, 1163, COL.red); txt(747, 1163, 'Vip/{i|Pthlh}+');
// K / L / M
legLine(145, 168, 1318, COL.blk); txt(170, 1318, 'Vip/{i|Pthlh}-');
legLine(145, 168, 1341, COL.red); txt(170, 1341, 'Vip/{i|Pthlh}+');
txt(262, 1398, '{i|P} < 0.02', {align:'right'});
txt(546, 1400, '{i|P} < 0.001', {align:'right'});
txt(830, 1398, '{i|P} < 0.05', {align:'right'});

const chart = echarts.init(document.getElementById('c'), null, {renderer:'svg', width:905, height:1472});
chart.setOption({animation:false, backgroundColor:'#ffffff', grid:grids, xAxis:xAxes, yAxis:yAxes, series, graphic:{elements:graphics}});
</script></body></html>
